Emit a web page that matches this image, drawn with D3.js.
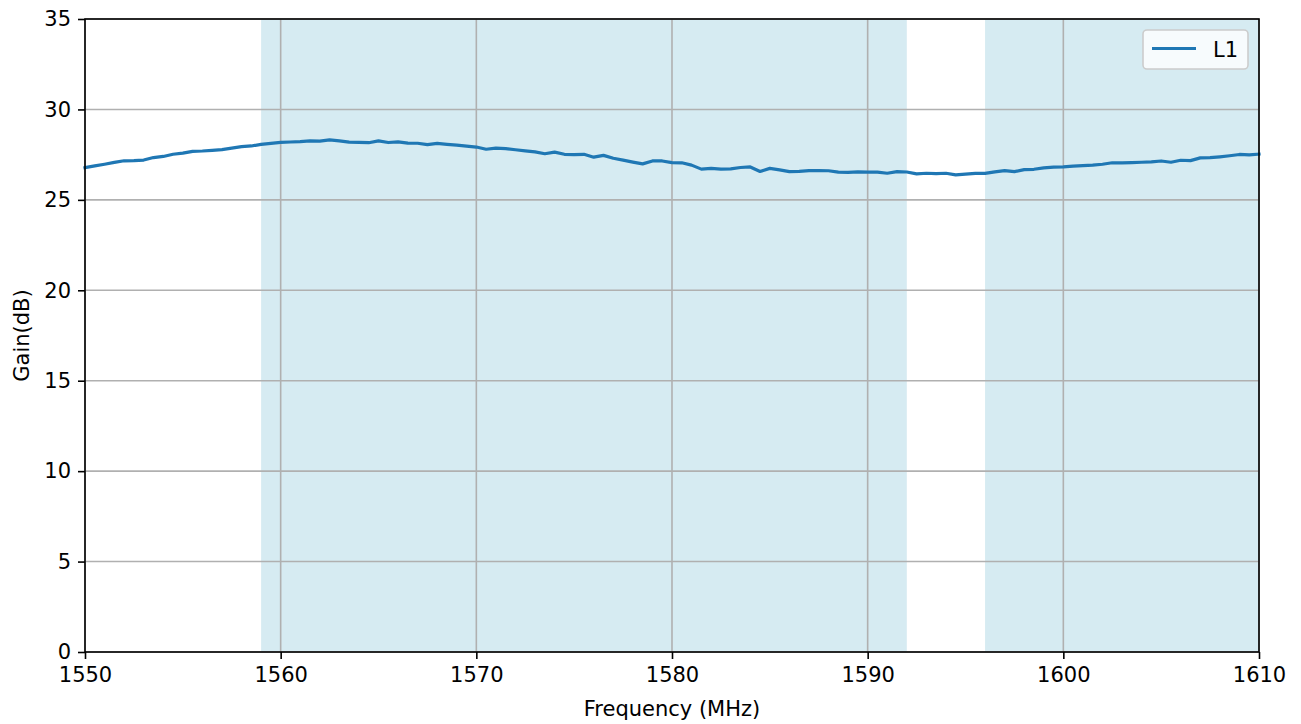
<!DOCTYPE html>
<html lang="en">
  <head>
    <meta charset="utf-8">
    <title>Gain</title>
    <script src="https://cdn.jsdelivr.net/npm/d3@7"></script>
    <style>
      body, html { margin: 0; padding: 0; background: #fff; }
      svg { display: block; font-family: "DejaVu Sans", sans-serif; }
    </style>
  </head>
  <body>
    <svg width="1301" height="724"></svg>
    <script>
      // frequency steps (MHz) and gain readings (dB) for L1
      const freqStart = 1550
      const freqStep = 0.5
      const gainL1 = [
        26.78, 26.88, 26.97, 27.07, 27.16, 27.17, 27.20, 27.34, 27.40, 27.52,
        27.58, 27.68, 27.70, 27.74, 27.78, 27.86, 27.94, 27.98, 28.07, 28.12,
        28.18, 28.20, 28.22, 28.26, 28.25, 28.32, 28.26, 28.19, 28.18, 28.16,
        28.26, 28.17, 28.21, 28.14, 28.13, 28.05, 28.12, 28.07, 28.03, 27.97,
        27.92, 27.80, 27.86, 27.83, 27.77, 27.71, 27.65, 27.55, 27.64, 27.52,
        27.50, 27.52, 27.36, 27.46, 27.30, 27.20, 27.09, 26.99, 27.15, 27.15,
        27.06, 27.05, 26.92, 26.70, 26.74, 26.70, 26.71, 26.79, 26.82, 26.57,
        26.74, 26.66, 26.56, 26.58, 26.62, 26.62, 26.61, 26.53, 26.52, 26.55,
        26.53, 26.53, 26.47, 26.56, 26.54, 26.44, 26.47, 26.45, 26.47, 26.38,
        26.42, 26.46, 26.46, 26.55, 26.62, 26.56, 26.67, 26.69, 26.77, 26.81,
        26.82, 26.87, 26.89, 26.92, 26.97, 27.05, 27.05, 27.06, 27.08, 27.10,
        27.15, 27.08, 27.19, 27.17, 27.32, 27.33, 27.38, 27.44, 27.51, 27.49,
        27.53
      ]
      // shaded bands [from, to] in MHz
      const bands = [[1559, 1592], [1596, 1610]]
      const xTicks = [1550, 1560, 1570, 1580, 1590, 1600, 1610]
      const yTicks = [0, 5, 10, 15, 20, 25, 30, 35]

      const data = gainL1.map((g, i) => ({ f: freqStart + i * freqStep, g: g }))

      const svg = d3.select('svg')
      const plotL = 85, plotR = 1259, plotT = 19, plotB = 652
      const fontSize = 21

      const x = d3.scaleLinear().domain([1550, 1610]).range([plotL, plotR])
      const y = d3.scaleLinear().domain([0, 35]).range([plotB, plotT])

      // bands
      svg.append('g').selectAll('rect')
        .data(bands)
        .join('rect')
        .attr('x', d => x(d[0]))
        .attr('width', d => x(d[1]) - x(d[0]))
        .attr('y', plotT)
        .attr('height', plotB - plotT)
        .attr('fill', '#add8e6')
        .attr('fill-opacity', 0.5)

      // grid
      const grid = svg.append('g').attr('stroke', '#b0b0b0').attr('stroke-width', 1.6)
      grid.selectAll('.gx').data(xTicks).join('line').attr('class', 'gx')
        .attr('x1', d => x(d)).attr('x2', d => x(d))
        .attr('y1', plotT).attr('y2', plotB)
      grid.selectAll('.gy').data(yTicks).join('line').attr('class', 'gy')
        .attr('y1', d => y(d)).attr('y2', d => y(d))
        .attr('x1', plotL).attr('x2', plotR)

      // line
      const line = d3.line().x(d => x(d.f)).y(d => y(d.g))
      svg.append('path')
        .datum(data)
        .attr('d', line)
        .attr('fill', 'none')
        .attr('stroke', '#1f77b4')
        .attr('stroke-width', 3.2)
        .attr('stroke-linejoin', 'round')
        .attr('stroke-linecap', 'square')

      // axes
      const xAxis = d3.axisBottom(x).tickValues(xTicks).tickSize(7).tickPadding(7).tickFormat(d3.format('d'))
      const yAxis = d3.axisLeft(y).tickValues(yTicks).tickSize(7).tickPadding(7)

      const gx = svg.append('g').attr('transform', 'translate(0,' + plotB + ')').call(xAxis)
      const gy = svg.append('g').attr('transform', 'translate(' + plotL + ',0)').call(yAxis)
      for (const g of [gx, gy]) {
        g.select('.domain').remove()
        g.selectAll('line').attr('stroke', '#000').attr('stroke-width', 1.6)
        g.selectAll('text').attr('font-size', fontSize).attr('fill', '#000')
          .attr('font-family', '"DejaVu Sans", sans-serif')
      }
      gx.selectAll('text').attr('dy', '0.76em')

      // frame
      svg.append('rect')
        .attr('x', plotL).attr('y', plotT)
        .attr('width', plotR - plotL).attr('height', plotB - plotT)
        .attr('fill', 'none').attr('stroke', '#000').attr('stroke-width', 1.6)

      // labels
      svg.append('text')
        .attr('x', (plotL + plotR) / 2).attr('y', 716)
        .attr('text-anchor', 'middle').attr('font-size', fontSize)
        .text('Frequency (MHz)')
      svg.append('text')
        .attr('transform', 'translate(29,' + ((plotT + plotB) / 2) + ') rotate(-90)')
        .attr('text-anchor', 'middle').attr('font-size', fontSize)
        .text('Gain(dB)')

      // legend
      const legend = svg.append('g')
      legend.append('rect')
        .attr('x', 1143).attr('y', 30).attr('width', 105).attr('height', 39)
        .attr('rx', 4).attr('fill', '#fff').attr('fill-opacity', 0.8)
        .attr('stroke', '#cccccc').attr('stroke-width', 1.6)
      legend.append('line')
        .attr('x1', 1152).attr('x2', 1196).attr('y1', 48.5).attr('y2', 48.5)
        .attr('stroke', '#1f77b4').attr('stroke-width', 3.2)
      legend.append('text')
        .attr('x', 1213).attr('y', 57).attr('font-size', fontSize)
        .text('L1')
    </script>
  </body>
</html>
